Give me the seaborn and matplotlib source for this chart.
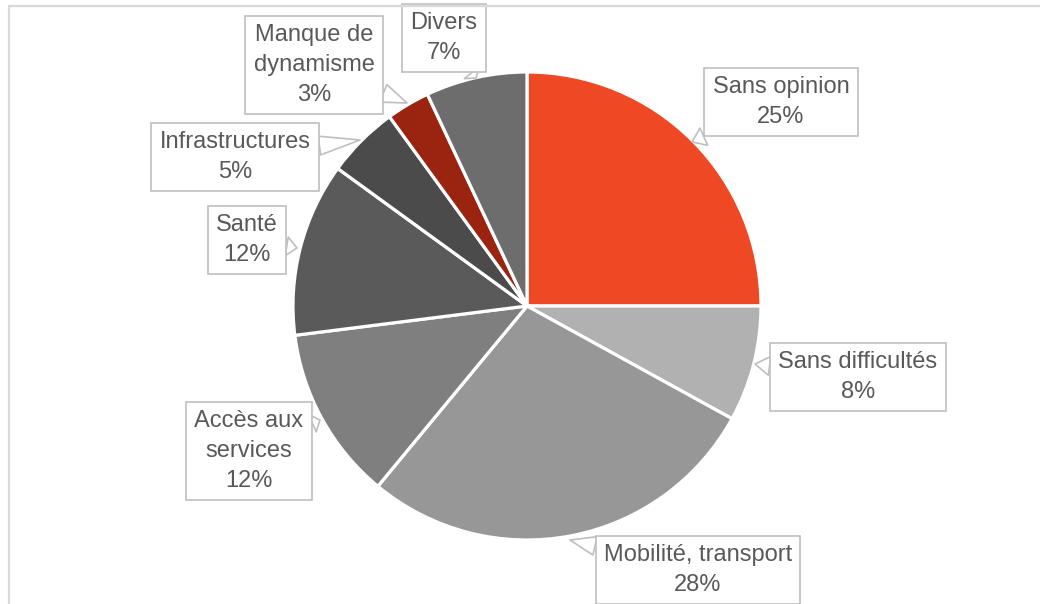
import matplotlib.pyplot as plt
import seaborn as sns
from matplotlib.lines import Line2D

# Chart data
categories = ["Sans opinion", "Sans difficultés", "Mobilité, transport",
              "Accès aux\nservices", "Santé", "Infrastructures",
              "Manque de\ndynamisme", "Divers"]
shares = [25, 8, 28, 12, 12, 5, 3, 7]

colors = ['#EE4924', '#B1B1B1', '#979797', '#7F7F7F',
          '#5A5A5A', '#4B4B4B', '#9A2410', '#6D6D6D']

# Layout in pixels (top-left origin): callout box centers and pointer tips
W, H = 1040, 604
box_centers = [(781, 102), (858, 377), (698, 570), (249, 451),
               (247, 240), (235, 157), (314, 65), (444, 38)]
tips = [(692, 142), (755, 364), (570, 540), (320, 420),
        (297, 248), (360, 140), (407, 103), (476, 78)]

sns.set_theme(style="white")
plt.rcParams['font.family'] = ['Liberation Sans', 'DejaVu Sans']
palette = sns.color_palette(colors)

fig = plt.figure(figsize=(W / 100, H / 100), dpi=100)
ax = fig.add_axes([0, 0, 1, 1])

ax.pie(shares, colors=palette, startangle=90, counterclock=False,
       center=(527, H - 306), radius=234,
       wedgeprops=dict(edgecolor='white', linewidth=2.3))

ax.set_xlim(0, W)
ax.set_ylim(0, H)
ax.set_aspect('equal')
ax.axis('off')

for cat, val, (bx, by), (tx, ty) in zip(categories, shares, box_centers, tips):
    ax.annotate(f"{cat}\n{val}%", xy=(tx, H - ty), xytext=(bx, H - by),
                textcoords='data', ha='center', va='center',
                multialignment='center', fontsize=17, color='#595959',
                linespacing=1.45,
                bbox=dict(boxstyle='square,pad=0.35', fc='white',
                          ec='#BFBFBF', lw=1.2),
                arrowprops=dict(arrowstyle='wedge,tail_width=0.8,shrink_factor=0.5',
                                fc='white', ec='#BFBFBF', lw=1.2,
                                shrinkA=0, shrinkB=0))

# outer chart frame
fig.add_artist(Line2D([9 / W, 1], [1 - 6 / H, 1 - 6 / H], color='#D9D9D9',
                      lw=1.6, transform=fig.transFigure))
fig.add_artist(Line2D([9 / W, 9 / W], [0, 1 - 6 / H], color='#D9D9D9',
                      lw=1.6, transform=fig.transFigure))

fig.savefig('out.png', dpi=100, facecolor='white')
